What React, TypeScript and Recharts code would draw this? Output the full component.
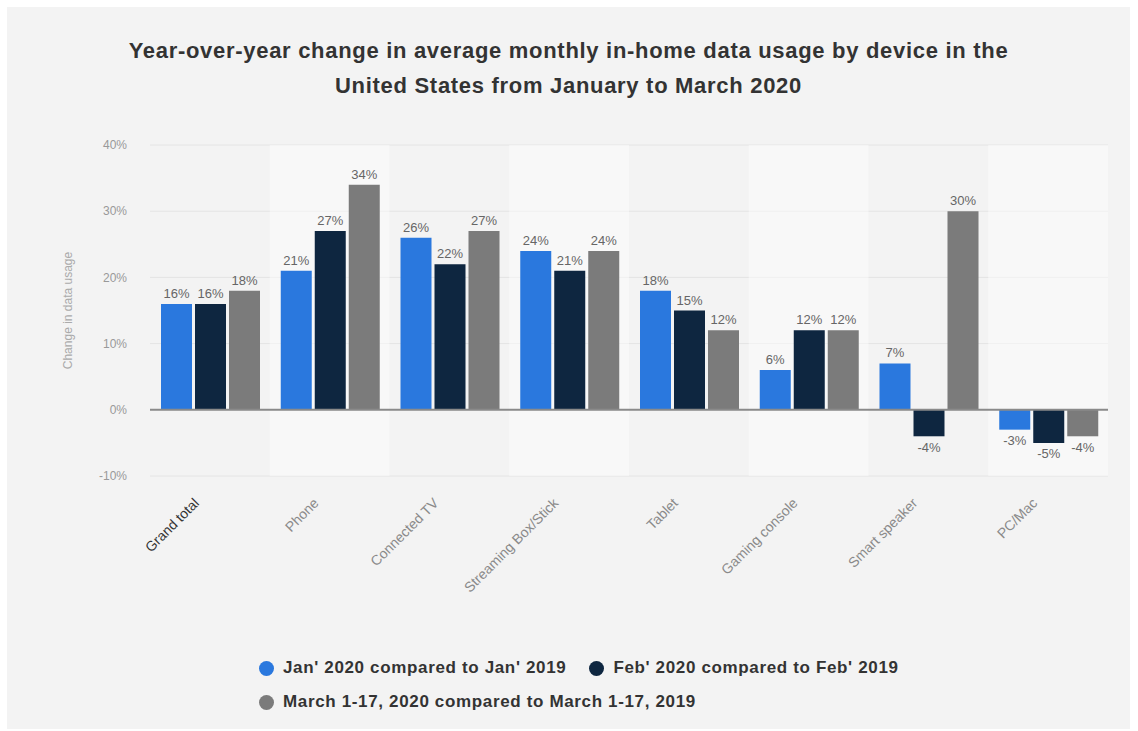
import {
  BarChart,
  Bar,
  XAxis,
  YAxis,
  CartesianGrid,
  LabelList,
  ReferenceArea,
  ReferenceLine,
} from 'recharts'

const devices = [
  'Grand total',
  'Phone',
  'Connected TV',
  'Streaming Box/Stick',
  'Tablet',
  'Gaming console',
  'Smart speaker',
  'PC/Mac',
]
const jan = [16, 21, 26, 24, 18, 6, 7, -3]
const feb = [16, 27, 22, 21, 15, 12, -4, -5]
const march = [18, 34, 27, 24, 12, 12, 30, -4]
const yTicks = [-10, 0, 10, 20, 30, 40]

const seriesNames = [
  "Jan' 2020 compared to Jan' 2019",
  "Feb' 2020 compared to Feb' 2019",
  'March 1-17, 2020 compared to March 1-17, 2019',
]
const COLORS = ['#2a78de', '#0e2640', '#7b7b7b']

const data = devices.map((name, i) => ({ name, jan: jan[i], feb: feb[i], march: march[i] }))

const FONT = '"Liberation Sans", Arial, Helvetica, sans-serif'

function DeviceTick({ x, y, payload }: any) {
  const first = payload.value === 'Grand total'
  return (
    <text
      x={x - 10}
      y={y + 26}
      transform={`rotate(-45, ${x - 10}, ${y + 26})`}
      textAnchor="end"
      fontSize={14}
      fontFamily={FONT}
      fill={first ? '#333' : '#8a8a8a'}
    >
      {payload.value}
    </text>
  )
}

const pct = (v: number) => `${v}%`

export default function App() {
  return (
    <div style={{ position: 'absolute', left: 0, top: 0, width: 1138, height: 731, background: '#fff' }}>
      <div
        style={{
          position: 'absolute',
          left: 7,
          top: 7,
          width: 1123,
          height: 722,
          background: '#f3f3f3',
          fontFamily: FONT,
        }}
      >
        <div
          style={{
            position: 'absolute',
            top: 26,
            left: 0,
            width: 1123,
            textAlign: 'center',
            fontSize: 22,
            letterSpacing: 0.7,
            fontWeight: 700,
            lineHeight: '35px',
            color: '#333',
          }}
        >
          Year-over-year change in average monthly in-home data usage by device in the
          <br />
          United States from January to March 2020
        </div>
        <BarChart
          width={1123}
          height={620}
          data={data}
          margin={{ top: 138, right: 22, bottom: 0, left: 43 }}
          barCategoryGap={11}
          barGap={3}
        >
          {devices.map((d, i) =>
            i % 2 === 1 ? (
              <ReferenceArea
                key={d}
                x1={d}
                x2={d}
                y1={-10}
                y2={40}
                fill="#ffffff"
                fillOpacity={0.45}
                stroke="none"
              />
            ) : null,
          )}
          <CartesianGrid vertical={false} stroke="#e4e4e4" />
          <XAxis
            dataKey="name"
            axisLine={false}
            tickLine={false}
            tickSize={0}
            interval={0}
            height={151}
            tick={<DeviceTick />}
          />
          <YAxis
            domain={[-10, 40]}
            ticks={yTicks}
            tickFormatter={pct}
            width={100}
            axisLine={false}
            tickLine={false}
            tickSize={0}
            tickMargin={23}
            tick={{ fill: '#999', fontSize: 12, fontFamily: FONT }}
            label={{
              value: 'Change in data usage',
              angle: -90,
              position: 'insideLeft',
              offset: 18,
              style: { textAnchor: 'middle', fill: '#aaa', fontSize: 12, fontFamily: FONT },
            }}
          />
          <ReferenceLine y={0} stroke="#8a8a8a" strokeWidth={2} />
          {(['jan', 'feb', 'march'] as const).map((k, i) => (
            <Bar key={k} dataKey={k} name={seriesNames[i]} fill={COLORS[i]} isAnimationActive={false}>
              <LabelList
                dataKey={k}
                position="top"
                offset={6}
                formatter={pct}
                style={{ fill: '#666', fontSize: 13, fontFamily: FONT }}
              />
            </Bar>
          ))}
        </BarChart>
        <div
          style={{
            position: 'absolute',
            left: 252,
            top: 650,
            width: 720,
            display: 'flex',
            flexWrap: 'wrap',
            rowGap: 12,
            columnGap: 23,
            fontSize: 17,
            letterSpacing: 0.65,
            fontWeight: 700,
            color: '#333',
            lineHeight: '22px',
          }}
        >
          {seriesNames.map((n, i) => (
            <div key={n} style={{ display: 'flex', alignItems: 'center' }}>
              <span
                style={{
                  width: 15,
                  height: 15,
                  borderRadius: '50%',
                  background: COLORS[i],
                  marginRight: 9,
                  display: 'inline-block',
                }}
              />
              {n}
            </div>
          ))}
        </div>
      </div>
    </div>
  )
}
